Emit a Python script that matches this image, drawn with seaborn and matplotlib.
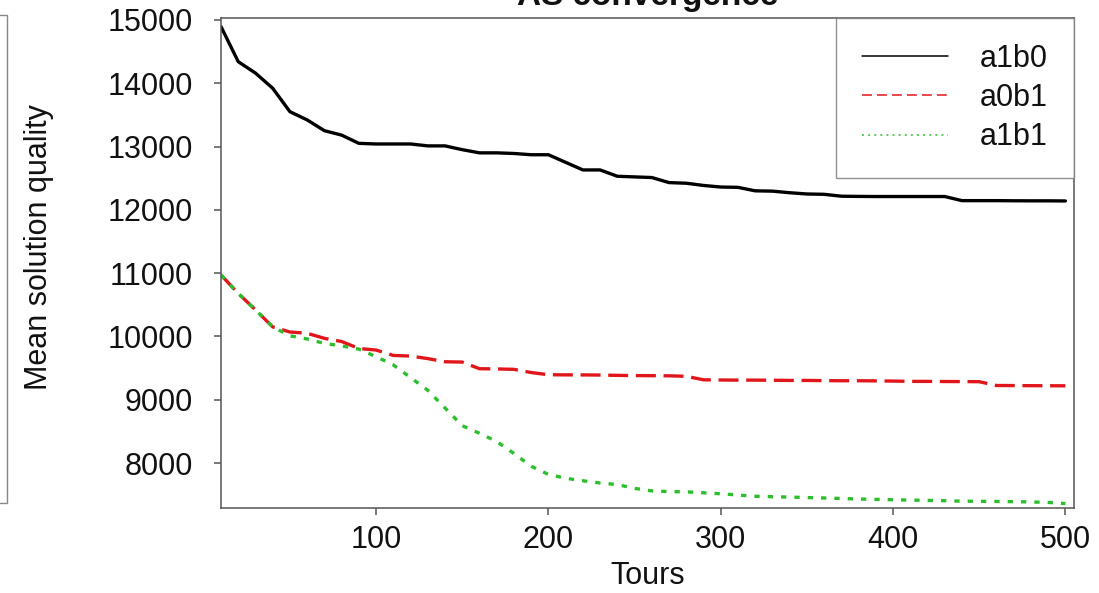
import numpy as np
import pandas as pd
import matplotlib
matplotlib.use("Agg")
import matplotlib.pyplot as plt
from matplotlib.lines import Line2D
from matplotlib.patches import Rectangle
import seaborn as sns

# Tours at which the mean solution quality was recorded
tours = np.arange(10, 501, 10)

a1b0 = [14894, 14340, 14160, 13920, 13550, 13420, 13250, 13180, 13050, 13040,
        13040, 13040, 13010, 13010, 12950, 12900, 12900, 12890, 12870, 12870,
        12750, 12630, 12630, 12530, 12520, 12510, 12430, 12420, 12385, 12360,
        12355, 12300, 12295, 12270, 12250, 12245, 12215, 12212, 12210, 12210,
        12210, 12210, 12210, 12145, 12145, 12145, 12143, 12142, 12142, 12140]

a0b1 = [10970, 10680, 10420, 10150, 10070, 10050, 9970, 9920, 9810, 9785,
        9700, 9690, 9650, 9600, 9595, 9490, 9487, 9480, 9430, 9395,
        9393, 9392, 9390, 9385, 9382, 9380, 9378, 9370, 9315, 9312,
        9310, 9310, 9308, 9305, 9305, 9302, 9300, 9300, 9298, 9295,
        9290, 9290, 9288, 9287, 9285, 9225, 9224, 9222, 9221, 9220]

a1b1 = [10970, 10680, 10420, 10150, 10010, 9960, 9890, 9850, 9800, 9680,
        9550, 9350, 9150, 8870, 8590, 8470, 8340, 8150, 7950, 7820,
        7760, 7720, 7685, 7660, 7600, 7560, 7550, 7545, 7530, 7515,
        7495, 7475, 7468, 7462, 7455, 7448, 7440, 7432, 7426, 7420,
        7415, 7410, 7405, 7398, 7396, 7393, 7390, 7386, 7378, 7360]

series_names = ["a1b0", "a0b1", "a1b1"]
series_values = [a1b0, a0b1, a1b1]

x_ticks = [100, 200, 300, 400, 500]
y_ticks = [8000, 9000, 10000, 11000, 12000, 13000, 14000, 15000]

colors = {"a1b0": "#000000", "a0b1": "#E0161B", "a1b1": "#2DBE2D"}
dash_main = {"a1b0": "", "a0b1": (6, 2.3), "a1b1": (1.6, 2.4)}
dash_legend = {"a1b0": None, "a0b1": (6.5, 3.3), "a1b1": (1.3, 2.7)}

df = pd.concat(
    [pd.DataFrame({"Tours": tours, "quality": vals, "series": name})
     for name, vals in zip(series_names, series_values)],
    ignore_index=True,
)

sns.set_style("white")
plt.rcParams["font.family"] = ["Liberation Sans", "DejaVu Sans"]

W, H = 1099, 593
fig = plt.figure(figsize=(W / 100, H / 100), dpi=100)
ax = fig.add_axes([221 / W, (H - 508) / H, (1074 - 221) / W, (508 - 18) / H])

sns.lineplot(data=df, x="Tours", y="quality", hue="series", style="series",
             hue_order=series_names, style_order=series_names,
             palette=colors, dashes=dash_main, linewidth=2.4,
             legend=False, ax=ax)

ax.set_xlim(10, 505)
ax.set_ylim(7290, 15030)
ax.set_xticks(x_ticks)
ax.set_yticks(y_ticks)
ax.set_xticklabels([str(v) for v in x_ticks])
ax.set_yticklabels([str(v) for v in y_ticks])

frame_col = "#555555"
for sp in ax.spines.values():
    sp.set_visible(True)
    sp.set_color(frame_col)
    sp.set_linewidth(1.1)
ax.tick_params(axis="both", which="major", direction="out", length=5,
               width=1.1, color=frame_col, labelsize=22, labelcolor="#111111",
               left=True, bottom=True)
ax.tick_params(axis="y", pad=15)
ax.tick_params(axis="x", pad=7)

ax.set_xlabel("Tours", fontsize=22, color="#111111")
ax.set_ylabel("Mean solution quality", fontsize=22, color="#111111")
ax.xaxis.set_label_coords(0.5, -0.108)
ax.yaxis.set_label_coords(-0.196, 0.533)

ax.set_title("AS convergence", fontsize=24, fontweight="bold",
             color="#111111", pad=9.5)

handles = [Line2D([], [], color=colors[n], lw=1.1,
                  linestyle="-" if dash_legend[n] is None else (0, dash_legend[n]))
           for n in series_names]
leg = ax.legend(handles, series_names, loc="upper right",
                bbox_to_anchor=(1, 1), borderaxespad=0, fontsize=22,
                frameon=True, fancybox=False, edgecolor="#777777",
                borderpad=0.85, handlelength=2.8, handletextpad=1.05,
                labelspacing=0.3)
leg.get_frame().set_linewidth(1.0)
leg.get_frame().set_facecolor("white")
for t in leg.get_texts():
    t.set_color("#111111")

# Edge of the neighbouring panel on the left
fig.add_artist(Rectangle((-20 / W, (H - 503) / H), 27 / W, (503 - 15) / H,
                         transform=fig.transFigure, fill=False,
                         edgecolor="#888888", linewidth=1.0))

fig.savefig("out.png", dpi=100)
